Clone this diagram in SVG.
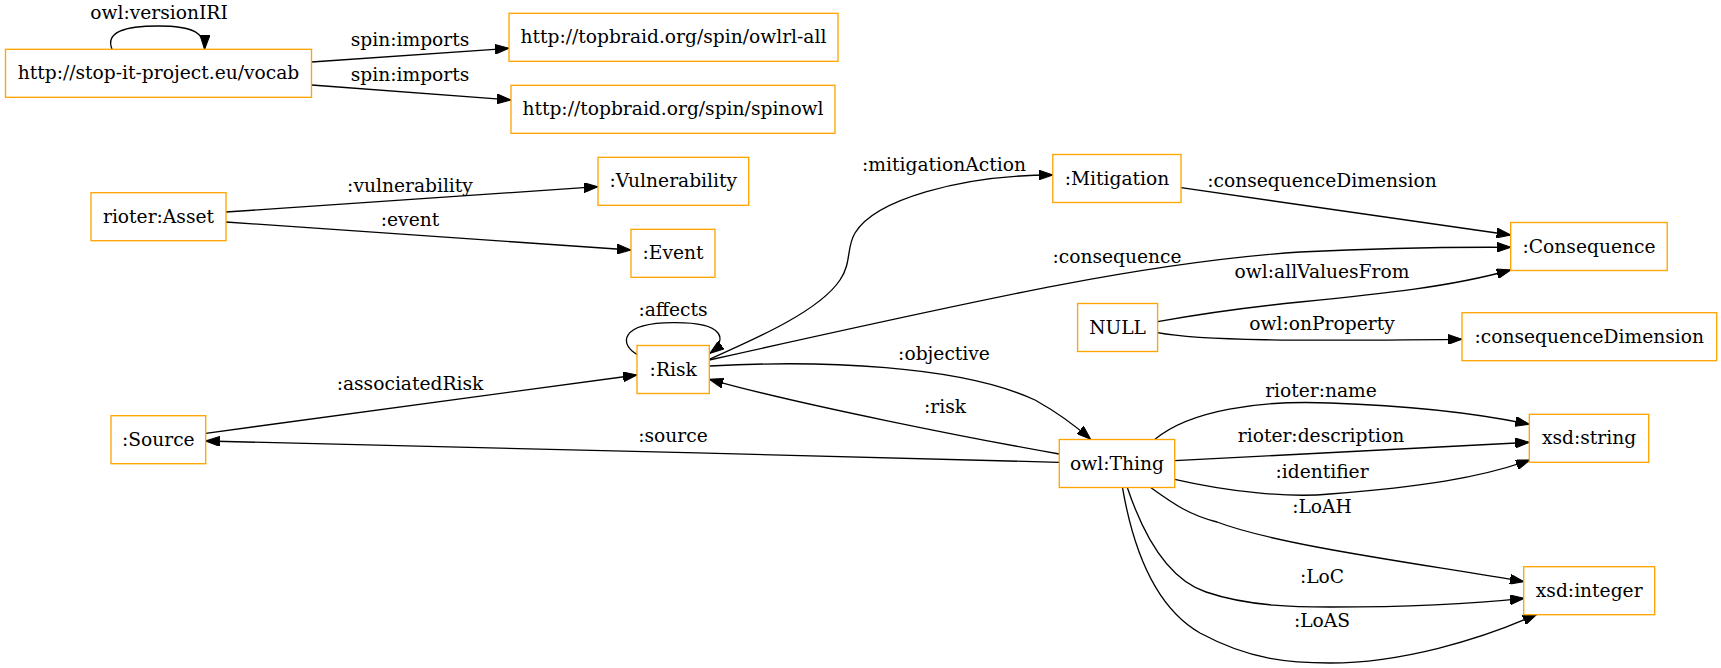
<svg xmlns="http://www.w3.org/2000/svg" width="1721" height="668" viewBox="0 0 1721 668">
<style>
.node rect{fill:#ffffff;stroke:#ffa500;stroke-width:1.33}
text{font-family:"DejaVu Serif",serif;font-size:18.67px;fill:#000;text-anchor:middle}
.edges path{fill:none;stroke:#000;stroke-width:1.33;marker-end:url(#arr)}
</style>
<defs>
<marker id="arr" markerUnits="userSpaceOnUse" markerWidth="14" markerHeight="10" viewBox="0 0 13.33 9.33" refX="13.33" refY="4.67" orient="auto">
<path d="M0,0 L13.33,4.67 L0,9.33 z" fill="#000" stroke="#000" stroke-width="1"/>
</marker>
</defs>
<rect x="0" y="0" width="1721" height="668" fill="#ffffff"/>
<g class="edges" id="edges">
<path d="M112,49.3 C105,32 125,26 158,26 C195,26 205,34 204.6,49.3"/>
<text x="159" y="19">owl:versionIRI</text>
<path d="M311.6,62 L509,48.3"/>
<text x="410" y="46">spin:imports</text>
<path d="M311.6,85 L511,100"/>
<text x="410" y="81">spin:imports</text>
<path d="M226,212 L598,186.7"/>
<text x="410" y="192">:vulnerability</text>
<path d="M226,222 L631,250"/>
<text x="410" y="226">:event</text>
<path d="M205.7,433.3 L637,375"/>
<text x="410" y="390">:associatedRisk</text>
<path d="M1059.3,462.3 C800,455 400,446 205.7,441"/>
<text x="673" y="441.7">:source</text>
<path d="M1059.3,454 C980,440 800,405 709.3,379.3"/>
<text x="945" y="413.3">:risk</text>
<path d="M710,366 C820,360 960,365 1035,400 C1060,414 1078,428 1090.6,439.3"/>
<text x="944" y="360">:objective</text>
<path d="M637,354.3 C620,345 618,323 673,322.7 C725,322 728,340 710,353.3"/>
<text x="673" y="315.7">:affects</text>
<path d="M709.3,359.3 C760,337 820,310 840,280 C852,262 846,248 855,233 C875,200 960,175 1052.7,175"/>
<text x="944" y="170.7">:mitigationAction</text>
<path d="M709.3,360 C1000,295 1150,262 1300,252 C1400,247 1460,247 1510.7,247.3"/>
<text x="1117" y="263">:consequence</text>
<path d="M1181,187.7 L1510.7,235"/>
<text x="1322" y="186.7">:consequenceDimension</text>
<path d="M1157.6,321.7 C1210,312 1260,306 1300,302 C1380,294 1450,287 1510.7,270"/>
<text x="1322" y="278">owl:allValuesFrom</text>
<path d="M1157.6,332.7 C1200,341 1300,341 1462,339.3"/>
<text x="1322" y="330">owl:onProperty</text>
<path d="M1154.9,439.3 C1190,410 1260,400 1330,403 C1420,406 1480,414 1529.3,424.3"/>
<text x="1321" y="397.3">rioter:name</text>
<path d="M1174.7,460.7 L1529.3,442.3"/>
<text x="1321" y="441.7">rioter:description</text>
<path d="M1174.7,479.3 C1230,492 1290,498 1330,494 C1420,487 1480,478 1530,460"/>
<text x="1322" y="478.3">:identifier</text>
<path d="M1151,487.7 C1175,505 1190,515 1217,522 C1280,546 1430,565 1524,581.7"/>
<text x="1322" y="513.3">:LoAH</text>
<path d="M1127.4,487.7 C1145,540 1170,580 1206,592 C1250,607 1300,607 1330,607 C1420,607 1480,603 1524,598.3"/>
<text x="1322" y="583.3">:LoC</text>
<path d="M1122.5,487.7 C1135,560 1160,610 1200,633 C1250,660 1290,663 1330,663 C1400,663 1480,640 1536.7,614.3"/>
<text x="1322" y="626.7">:LoAS</text>
</g>
<g class="node" id="n_vocab"><rect x="5.5" y="49.3" width="306" height="48"/><text x="158.5" y="79.3">http://stop-it-project.eu/vocab</text></g>
<g class="node" id="n_owlrl"><rect x="509" y="13.3" width="329" height="48"/><text x="673.5" y="43.3">http://topbraid.org/spin/owlrl-all</text></g>
<g class="node" id="n_spinowl"><rect x="511" y="85.3" width="324" height="48"/><text x="673" y="115.3">http://topbraid.org/spin/spinowl</text></g>
<g class="node" id="n_asset"><rect x="91" y="192.7" width="135" height="48"/><text x="158.5" y="222.7">rioter:Asset</text></g>
<g class="node" id="n_vuln"><rect x="598" y="157.3" width="150.7" height="48"/><text x="673.3" y="187.3">:Vulnerability</text></g>
<g class="node" id="n_event"><rect x="631" y="229.3" width="84" height="48"/><text x="673" y="259.3">:Event</text></g>
<g class="node" id="n_mitig"><rect x="1052.8" y="154.5" width="128.2" height="48"/><text x="1117" y="184.5">:Mitigation</text></g>
<g class="node" id="n_conseq"><rect x="1510.7" y="222.5" width="156.5" height="48"/><text x="1589" y="252.5">:Consequence</text></g>
<g class="node" id="n_null"><rect x="1077.6" y="303.5" width="80" height="48"/><text x="1117.6" y="333.5">NULL</text></g>
<g class="node" id="n_cdim"><rect x="1462" y="312.7" width="254.7" height="48"/><text x="1589.3" y="342.7">:consequenceDimension</text></g>
<g class="node" id="n_risk"><rect x="637" y="345.5" width="72.3" height="48"/><text x="673.2" y="375.5">:Risk</text></g>
<g class="node" id="n_source"><rect x="111" y="415.7" width="94.7" height="48"/><text x="158.3" y="445.7">:Source</text></g>
<g class="node" id="n_thing"><rect x="1059.3" y="439.5" width="115.4" height="48"/><text x="1117" y="469.5">owl:Thing</text></g>
<g class="node" id="n_string"><rect x="1529.3" y="414.3" width="119.4" height="48"/><text x="1589" y="444.3">xsd:string</text></g>
<g class="node" id="n_integer"><rect x="1523.7" y="566.7" width="131" height="48"/><text x="1589.2" y="596.7">xsd:integer</text></g>
</svg>
